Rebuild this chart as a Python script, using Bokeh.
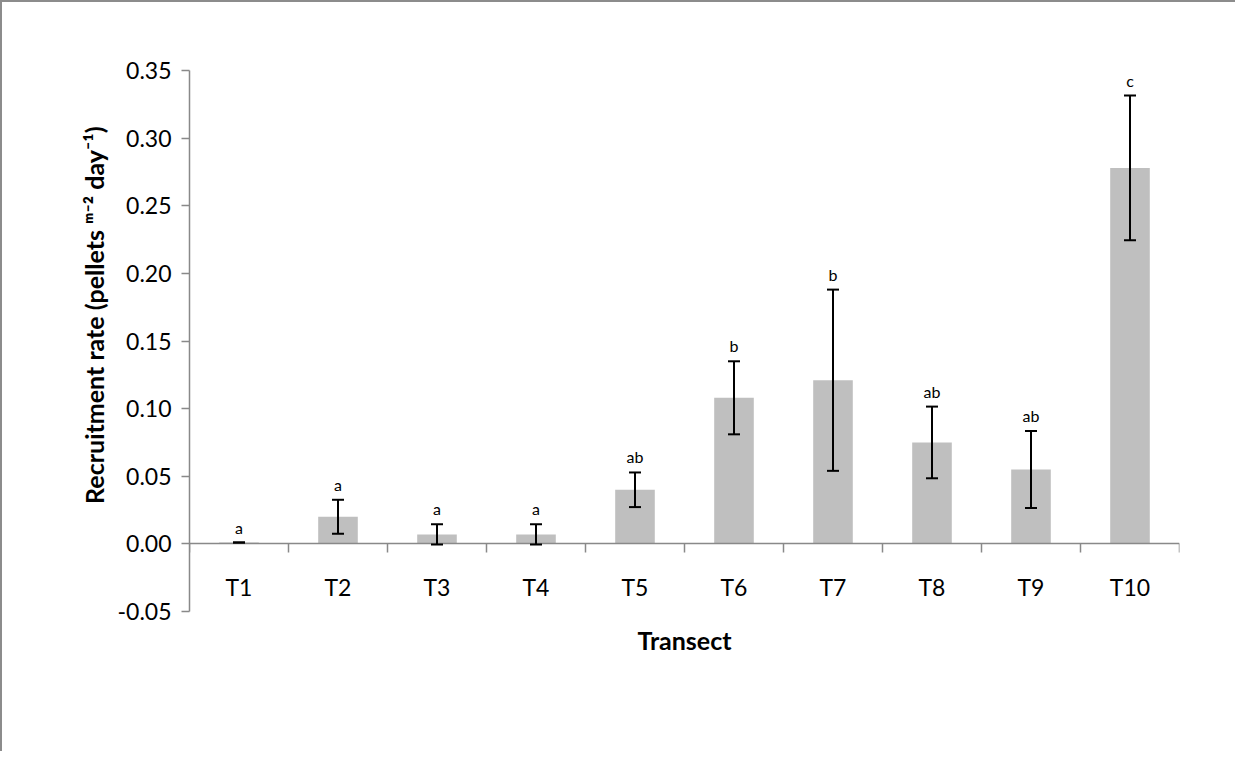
from bokeh.plotting import figure
from bokeh.models import (ColumnDataSource, Range1d, FixedTicker, NumeralTickFormatter,
                          Whisker, TeeHead, Title)
from bokeh.core.properties import value
from bokeh.embed import file_html
from bokeh.resources import INLINE

# ---- data ----
categories = ["T1", "T2", "T3", "T4", "T5", "T6", "T7", "T8", "T9", "T10"]
rates = [0.001, 0.020, 0.007, 0.007, 0.040, 0.108, 0.121, 0.075, 0.055, 0.278]
errors = [0.0, 0.0126, 0.0075, 0.0075, 0.0128, 0.027, 0.067, 0.0265, 0.0285, 0.0535]
letters = ["a", "a", "a", "a", "ab", "b", "b", "ab", "ab", "c"]
y_ticks = [-0.05, 0.0, 0.05, 0.10, 0.15, 0.20, 0.25, 0.30, 0.35]
x_title = "Transect"
y_title = "Recruitment rate (pellets \u1d50\u207b\u00b2 day\u207b\u00b9)"

FONT = "Lato"
AXIS_GRAY = "#898989"

centers = [i + 0.5 for i in range(len(categories))]
src = ColumnDataSource(dict(
    x=centers,
    top=rates,
    upper=[r + e for r, e in zip(rates, errors)],
    lower=[r - e for r, e in zip(rates, errors)],
    letter=letters,
))

p = figure(width=1235, height=751, output_backend="svg", toolbar_location=None,
           x_range=Range1d(0, len(categories)), y_range=Range1d(-0.05, 0.35),
           min_border_left=187, min_border_right=58, min_border_top=68, min_border_bottom=142)
p.styles = {"border-top": "2px solid #8C8C8C", "border-left": "2px solid #8C8C8C"}
p.outline_line_color = None
p.grid.visible = False
p.background_fill_color = "white"
p.border_fill_color = "white"

# bars
p.vbar(x="x", top="top", bottom=0, width=0.4, source=src,
       fill_color="#BFBFBF", line_color=None)

# error bars
w = Whisker(base="x", upper="upper", lower="lower", source=src,
            line_color="black", line_width=2, level="overlay",
            upper_head=TeeHead(size=12, line_color="black", line_width=2),
            lower_head=TeeHead(size=12, line_color="black", line_width=2))
p.add_layout(w)

# significance letters
p.text(x="x", y="upper", text="letter", source=src, text_align="center",
       text_baseline="bottom", y_offset=-6, text_font=value(FONT),
       text_font_size="16px", text_color="black")

# x axis at zero
xa = p.xaxis[0]
xa.fixed_location = 0
xa.ticker = FixedTicker(ticks=centers, minor_ticks=list(range(len(categories) + 1)))
xa.major_label_overrides = {c: lab for c, lab in zip(centers, categories)}
xa.major_tick_line_color = None
xa.major_tick_out = 9
xa.major_tick_in = 0
xa.minor_tick_line_color = AXIS_GRAY
xa.minor_tick_line_width = 1.5
xa.minor_tick_out = 9
xa.minor_tick_in = 0
xa.axis_line_color = AXIS_GRAY
xa.axis_line_width = 1.5
xa.major_label_standoff = 20
xa.major_label_text_font = FONT
xa.major_label_text_font_size = "23px"
xa.major_label_text_color = "black"

# y axis
ya = p.yaxis[0]
ya.ticker = FixedTicker(ticks=y_ticks)
ya.formatter = NumeralTickFormatter(format="0.00")
ya.minor_tick_line_color = None
ya.major_tick_out = 8
ya.major_tick_in = 0
ya.major_tick_line_color = AXIS_GRAY
ya.major_tick_line_width = 1.5
ya.axis_line_color = AXIS_GRAY
ya.axis_line_width = 1.5
ya.major_label_standoff = 10
ya.major_label_text_font = FONT
ya.major_label_text_font_size = "23px"
ya.major_label_text_color = "black"

# axis titles
p.add_layout(Title(text=x_title, align="center", vertical_align="bottom", standoff=22,
                   text_font=FONT, text_font_style="bold", text_font_size="25px",
                   text_color="black"), "below")
p.add_layout(Title(text=y_title, align="right", offset=56, vertical_align="bottom", standoff=12,
                   text_font=FONT, text_font_style="bold", text_font_size="25px",
                   text_color="black"), "left")

open("out.html", "w").write(file_html(p, INLINE))
